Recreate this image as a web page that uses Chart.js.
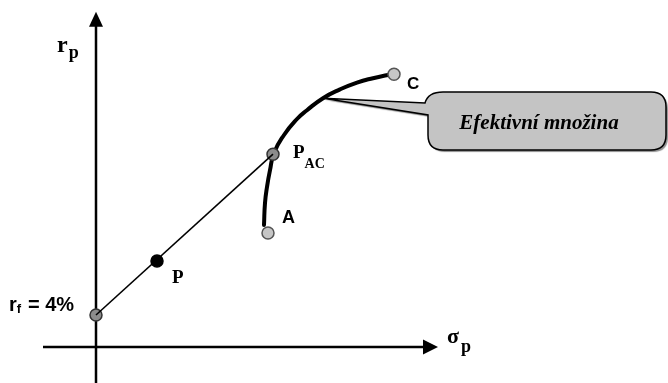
<!DOCTYPE html>
<html>
<head>
<meta charset="utf-8">
<script src="https://cdn.jsdelivr.net/npm/chart.js"></script>
<style>
  html, body { margin: 0; padding: 0; background: #fff; }
  canvas { display: block; }
</style>
</head>
<body>
<canvas id="cml" width="668" height="383"></canvas>
<script>
// portfolio points: rf, P, P_AC, A, C  (sigma_p, r_p in %)
const pointNames = ['rf', 'P', 'PAC', 'A', 'C']
const pointSigma = [0, 6.1, 17.7, 17.2, 29.8]
const pointRet = [4, 10.75, 24.1, 14.25, 34.1]

// capital market line rf -> P_AC
const cmlSigma = [0, 17.7]
const cmlRet = [4, 24.1]

// efficient frontier A -> C
const frontierSigma = [16.8, 16.9, 17.1, 17.4, 17.8, 18.8, 20.1, 21.1, 22.7, 24.4, 26.1, 27.7, 29.2]
const frontierRet = [15.25, 18.0, 20.0, 22.1, 24.25, 26.5, 28.5, 29.6, 31.1, 32.2, 33.05, 33.6, 34.0]

// axis extent (data units)
const xAxisFrom = -5.3, xAxisTo = 34.2
const yAxisFrom = -4.5, yAxisTo = 41.9

const calloutText = 'Efektivní množina'
const calloutAt = 8 // index into frontier

const toXY = (xs, ys) => xs.map((v, i) => ({ x: v, y: ys[i] }))

const SERIF = '"Liberation Serif", "Times New Roman", serif'
const SANS = '"Liberation Sans", Arial, sans-serif'

const axesPlugin = {
  id: 'axes',
  beforeDatasetsDraw(chart) {
    const { ctx, scales: { x, y } } = chart
    const ox = x.getPixelForValue(0), oy = y.getPixelForValue(0)
    const xt = x.getPixelForValue(xAxisTo), yt = y.getPixelForValue(yAxisTo)
    ctx.save()
    ctx.strokeStyle = '#000'
    ctx.fillStyle = '#000'
    ctx.lineWidth = 2.5
    ctx.beginPath()
    ctx.moveTo(x.getPixelForValue(xAxisFrom), oy)
    ctx.lineTo(xt - 12, oy)
    ctx.moveTo(ox, y.getPixelForValue(yAxisFrom))
    ctx.lineTo(ox, yt + 12)
    ctx.stroke()
    ctx.beginPath()
    ctx.moveTo(xt, oy); ctx.lineTo(xt - 15, oy - 7.5); ctx.lineTo(xt - 15, oy + 7.5)
    ctx.closePath(); ctx.fill()
    ctx.beginPath()
    ctx.moveTo(ox, yt); ctx.lineTo(ox - 7, yt + 15); ctx.lineTo(ox + 7, yt + 15)
    ctx.closePath(); ctx.fill()
    ctx.restore()
  }
}

function subText(ctx, x, y, main, mainFont, sub, subFont, dx, dy) {
  ctx.font = mainFont
  ctx.fillText(main, x, y)
  const w = ctx.measureText(main).width
  ctx.font = subFont
  ctx.fillText(sub, x + w + dx, y + dy)
}

const labelsPlugin = {
  id: 'labels',
  afterDatasetsDraw(chart) {
    const { ctx, scales: { x, y } } = chart
    const px = i => x.getPixelForValue(pointSigma[i])
    const py = i => y.getPixelForValue(pointRet[i])
    ctx.save()
    ctx.fillStyle = '#000'
    ctx.textBaseline = 'alphabetic'

    // callout
    const tx = x.getPixelForValue(frontierSigma[calloutAt])
    const ty = y.getPixelForValue(frontierRet[calloutAt])
    const x0 = 428, y0 = 92, x1 = 666, y1 = 150, r = 15
    ctx.save()
    ctx.beginPath()
    ctx.moveTo(tx, ty)
    ctx.lineTo(x0 - 3, y0 + 11)
    ctx.quadraticCurveTo(x0, y0, x0 + r, y0)
    ctx.lineTo(x1 - r, y0)
    ctx.quadraticCurveTo(x1, y0, x1, y0 + r)
    ctx.lineTo(x1, y1 - r)
    ctx.quadraticCurveTo(x1, y1, x1 - r, y1)
    ctx.lineTo(x0 + r, y1)
    ctx.quadraticCurveTo(x0, y1, x0, y1 - r)
    ctx.lineTo(x0, y0 + 23)
    ctx.closePath()
    ctx.shadowColor = 'rgba(0,0,0,0.45)'
    ctx.shadowOffsetX = 2
    ctx.shadowOffsetY = 2
    ctx.shadowBlur = 1
    ctx.fillStyle = '#c4c4c4'
    ctx.fill()
    ctx.shadowColor = 'transparent'
    ctx.lineWidth = 1.5
    ctx.strokeStyle = '#000'
    ctx.stroke()
    ctx.restore()
    ctx.font = 'italic bold 21px ' + SERIF
    ctx.textAlign = 'center'
    ctx.fillText(calloutText, 539, 129)
    ctx.textAlign = 'left'

    // axis titles
    subText(ctx, 57, 52, 'r', 'bold 24px ' + SERIF, 'p', 'bold 18px ' + SERIF, 1, 6)
    subText(ctx, 447, 343, 'σ', 'bold 22px ' + SERIF, 'p', 'bold 18px ' + SERIF, 2, 9)

    // point labels
    subText(ctx, 9, py(0) - 4, 'r', 'bold 20px ' + SANS, 'f', 'bold 13px ' + SANS, 0, 2)
    ctx.font = 'bold 20px ' + SANS
    ctx.fillText('= 4%', 28, py(0) - 4)
    ctx.font = 'bold 19px ' + SERIF
    ctx.fillText('P', px(1) + 15, py(1) + 22)
    subText(ctx, px(2) + 20, py(2) + 4, 'P', 'bold 19px ' + SERIF, 'AC', 'bold 14px ' + SERIF, 0, 10)
    ctx.font = 'bold 18px ' + SANS
    ctx.fillText('A', px(3) + 14, py(3) - 10)
    ctx.font = 'bold 17px ' + SANS
    ctx.fillText('C', px(4) + 13, py(4) + 15)
    ctx.restore()
  }
}

const ptFill = ['#8c8c8c', '#000000', '#8c8c8c', '#c6c6c6', '#c6c6c6']
const ptBorder = ['#333333', '#000000', '#333333', '#555555', '#555555']

new Chart(document.getElementById('cml'), {
  type: 'scatter',
  data: {
    datasets: [
      {
        label: 'CML',
        data: toXY(cmlSigma, cmlRet),
        showLine: true,
        borderColor: '#000',
        borderWidth: 1.6,
        pointRadius: 0,
        order: 1
      },
      {
        label: 'portfolia',
        data: toXY(pointSigma, pointRet),
        showLine: false,
        pointRadius: 6,
        pointBorderWidth: 1.5,
        backgroundColor: ptFill,
        borderColor: ptBorder,
        order: 2
      },
      {
        label: 'Efektivní množina',
        data: toXY(frontierSigma, frontierRet),
        showLine: true,
        tension: 0.5,
        borderColor: '#000',
        borderWidth: 4,
        borderCapStyle: 'round',
        pointRadius: 0,
        order: 3
      }
    ]
  },
  options: {
    responsive: false,
    animation: false,
    layout: { padding: 0, autoPadding: false },
    scales: {
      x: { type: 'linear', display: false, min: -9.6, max: 57.2 },
      y: { type: 'linear', display: false, min: -4.5, max: 43.375 }
    },
    plugins: {
      legend: { display: false },
      tooltip: { enabled: false }
    }
  },
  plugins: [axesPlugin, labelsPlugin]
})
</script>
</body>
</html>
